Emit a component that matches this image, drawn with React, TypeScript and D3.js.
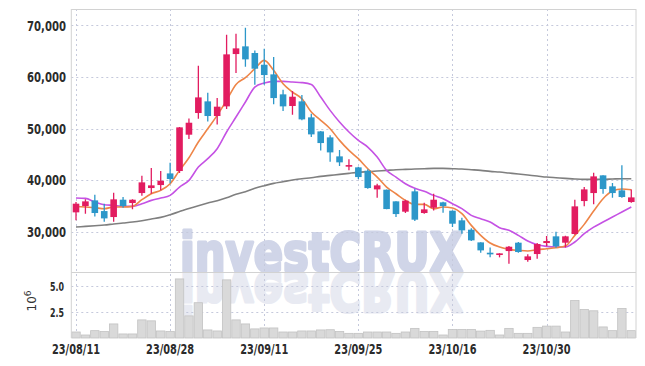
import React from 'react';
import * as d3 from 'd3';

const dates = [
  '23/08/11','23/08/14','23/08/16','23/08/17','23/08/18','23/08/21','23/08/22','23/08/23','23/08/24','23/08/25',
  '23/08/28','23/08/29','23/08/30','23/08/31','23/09/01','23/09/04','23/09/05','23/09/06','23/09/07','23/09/08',
  '23/09/11','23/09/12','23/09/13','23/09/14','23/09/15','23/09/18','23/09/19','23/09/20','23/09/21','23/09/22',
  '23/09/25','23/09/26','23/09/27','23/10/04','23/10/05','23/10/06','23/10/10','23/10/11','23/10/12','23/10/13',
  '23/10/16','23/10/17','23/10/18','23/10/19','23/10/20','23/10/23','23/10/24','23/10/25','23/10/26','23/10/27',
  '23/10/30','23/10/31','23/11/01','23/11/02','23/11/03','23/11/06','23/11/07','23/11/08','23/11/09','23/11/10',
];
const tickDates = ['23/08/11', '23/08/28', '23/09/11', '23/09/25', '23/10/16', '23/10/30'];
const priceTicks = [30000, 40000, 50000, 60000, 70000];
const volumeTicks = [2.5, 5.0];

const open = [
  33750, 34970, 36070, 34000, 32840, 36200, 35560, 37490, 38460, 39040,
  41300, 41760, 48800, 53000, 55260, 52420, 54290, 64430, 65920, 64630,
  62360, 60490, 56620, 54360, 55260, 52160, 49440, 48280, 44600, 42600,
  42470, 41820, 38200, 38140, 35880, 33880, 37820, 33620, 34650, 35690,
  34070, 32200, 30390, 27930, 25930, 25480, 26250, 27870, 24510, 25670,
  27800, 29100, 27870, 29550, 35940, 37490, 40920, 38790, 38010, 35750,
];
const high = [
  35750, 36270, 37170, 35430, 37560, 36720, 36270, 40850, 42340, 41760,
  43370, 50300, 51960, 62170, 56940, 55900, 68180, 68370, 69540, 65140,
  65460, 63850, 57520, 57260, 56490, 52870, 49500, 48670, 45830, 44020,
  42600, 42080, 39300, 38200, 35900, 36200, 38330, 35620, 37360, 35810,
  34100, 32710, 30650, 27950, 26960, 25800, 27220, 28000, 25610, 27800,
  29160, 30000, 29230, 36200, 38660, 41430, 40950, 39430, 42860, 38200,
];
const low = [
  32200, 33490, 32970, 31940, 31940, 34650, 34330, 36980, 37360, 38010,
  39370, 41370, 47960, 51900, 51380, 50800, 53770, 60750, 61980, 58490,
  58490, 54680, 53390, 52670, 51580, 48350, 45760, 43570, 42730, 41890,
  40210, 38330, 36590, 34330, 32840, 33620, 32070, 33490, 34130, 33680,
  30900, 29610, 28190, 25930, 25030, 25030, 23800, 25930, 24190, 24770,
  27160, 26900, 26960, 29420, 34910, 35300, 37360, 36590, 36590, 35620,
];
const close = [
  35430, 35880, 33620, 32580, 36270, 34970, 36200, 39560, 38980, 39880,
  40210, 50220, 51120, 56030, 52420, 54230, 64370, 65530, 63400, 61590,
  60360, 55900, 54290, 56160, 51770, 48860, 47180, 45370, 43440, 42920,
  40590, 38460, 38980, 34390, 33420, 36010, 32330, 34330, 36200, 34970,
  31550, 30260, 28320, 26380, 25610, 25800, 27090, 26060, 25220, 27610,
  28190, 27160, 29100, 34910, 38200, 40720, 38270, 37490, 36720, 36650,
];
const ma5 = [
  34910, 34780, 34650, 34460, 34780, 34780, 34910, 36200, 37360, 38010,
  39300, 41890, 44340, 47380, 49960, 52550, 55450, 58550, 59850, 61590,
  63200, 61270, 58690, 57070, 55770, 53190, 51580, 49960, 47700, 45760,
  44150, 42210, 40590, 38650, 37360, 36070, 35300, 35300, 34460, 34780,
  34590, 33490, 31230, 29290, 27800, 27030, 26580, 26380, 26250, 26510,
  26700, 26900, 27220, 29290, 31420, 34000, 36400, 37880, 38270, 38140,
];
const ma10 = [
  36520, 36450, 35750, 35230, 35100, 34910, 34910, 35430, 36070, 36520,
  37040, 38660, 39950, 42530, 44150, 46090, 49320, 52220, 55130, 58040,
  58810, 59130, 59130, 59000, 58900, 58550, 56100, 53510, 51250, 49320,
  47700, 46410, 44470, 41890, 40590, 39300, 38400, 37820, 37040, 36400,
  35430, 34460, 33170, 32520, 31870, 30780, 30260, 29290, 28190, 27480,
  27160, 27030, 27030, 28000, 29610, 30900, 31870, 32840, 33810, 34780,
];
const ma60 = [
  30900, 31030, 31160, 31290, 31490, 31680, 31870, 32130, 32450, 32780,
  33300, 33900, 34500, 35050, 35560, 36010, 36590, 37240, 37750, 38400,
  38910, 39370, 39690, 40010, 40270, 40460, 40720, 40920, 41110, 41310,
  41500, 41630, 41760, 41890, 42020, 42080, 42140, 42210, 42270, 42270,
  42210, 42140, 42020, 41890, 41690, 41560, 41370, 41180, 40980, 40790,
  40590, 40460, 40340, 40210, 40140, 40140, 40140, 40210, 40270, 40270,
];
const volume = [
  0.58, 0.29, 0.71, 0.62, 1.36, 0.39, 0.39, 1.75, 1.66, 0.68,
  0.62, 5.71, 2.14, 3.41, 0.78, 0.68, 5.62, 1.75, 1.36, 0.88,
  0.97, 0.97, 0.58, 0.58, 0.68, 0.68, 0.78, 0.80, 0.62, 0.45,
  0.45, 0.58, 0.58, 0.58, 0.45, 0.58, 0.93, 0.64, 0.64, 0.29,
  0.83, 0.83, 0.83, 0.67, 0.74, 0.29, 0.93, 0.45, 0.45, 1.03,
  1.15, 1.15, 0.58, 3.62, 2.76, 2.63, 1.07, 0.71, 2.86, 0.71,
];

const UP = '#e21c60';
const DOWN = '#2c97c9';
const GRID = '#c5c9dc';
const FRAME = '#d2d2d2';
const LABEL_FONT = "'DejaVu Sans Condensed', 'DejaVu Sans', sans-serif";
const MARK_FONT = "'DejaVu Sans', 'Liberation Sans', sans-serif";

export default function App() {
  const W = 645, H = 366;
  const left = 71.3, right = 636, top = 9, mainBottom = 272, volBottom = 338;

  const x = d3.scaleBand<string>().domain(dates).range([left, right]).padding(0);
  const bw = x.bandwidth();
  const cx = (d: string) => (x(d) as number) + bw / 2;
  const y = d3.scaleLinear().domain([22190, 73160]).range([mainBottom, top]);
  const yv = d3.scaleLinear().domain([0, 6.38]).range([volBottom, mainBottom]);

  const mkLine = (vals: number[]) =>
    d3.line<number>().x((_, i) => cx(dates[i])).y((v) => y(v)).curve(d3.curveMonotoneX)(vals) || '';

  const bodyW = bw * 0.7;

  const markProps = {
    x: 180,
    y: 271,
    fontFamily: MARK_FONT,
    fontWeight: 'bold' as const,
    fontSize: 54,
    textLength: 283,
    lengthAdjust: 'spacingAndGlyphs',
    strokeWidth: 3.2,
    strokeLinejoin: 'round' as const,
  };

  return (
    <svg width={W} height={H} style={{ position: 'absolute', left: 0, top: 0, background: '#fff' }}>
      <defs>
        <clipPath id="mainClip">
          <rect x={left} y={top} width={right - left} height={mainBottom - top} />
        </clipPath>
        <clipPath id="volClip">
          <rect x={left} y={mainBottom} width={right - left} height={volBottom - mainBottom} />
        </clipPath>
      </defs>

      {/* watermark */}
      <g clipPath="url(#mainClip)">
        <text {...markProps} fill="#d0d5e8" stroke="#d0d5e8">investCRUX</text>
      </g>
      <g clipPath="url(#volClip)">
        <g transform={`translate(0, ${2 * 272}) scale(1,-1)`}>
          <text {...markProps} fill="#e8eaf2" stroke="#e8eaf2">investCRUX</text>
        </g>
      </g>

      {/* grid */}
      <g stroke={GRID} strokeWidth={1} strokeDasharray="2,3" fill="none">
        {priceTicks.map((t) => (
          <line key={'h' + t} x1={left} x2={right} y1={Math.round(y(t)) + 0.5} y2={Math.round(y(t)) + 0.5} />
        ))}
        {volumeTicks.map((t) => (
          <line key={'v' + t} x1={left} x2={right} y1={Math.round(yv(t)) + 0.5} y2={Math.round(yv(t)) + 0.5} />
        ))}
        {tickDates.map((d) => (
          <line key={'d' + d} x1={Math.round(cx(d)) + 0.5} x2={Math.round(cx(d)) + 0.5} y1={top} y2={volBottom} />
        ))}
      </g>

      {/* volume bars */}
      <g>
        {dates.map((d, i) => (
          <rect key={'vb' + i} x={(x(d) as number) + 0.5} y={yv(volume[i])} width={bw - 1}
            height={volBottom - yv(volume[i])} fill="#d9d9d9" stroke="#c2c2c2" strokeWidth={0.8} />
        ))}
      </g>

      {/* moving averages */}
      <g clipPath="url(#mainClip)" fill="none" strokeWidth={1.6} strokeLinejoin="round">
        <path d={mkLine(ma60)} stroke="#7f7f7f" />
        <path d={mkLine(ma10)} stroke="#c552e4" />
        <path d={mkLine(ma5)} stroke="#ee8548" />
      </g>

      {/* candles */}
      <g clipPath="url(#mainClip)">
        {dates.map((d, i) => {
          const up = close[i] >= open[i];
          const col = up ? UP : DOWN;
          const yTop = y(Math.max(open[i], close[i]));
          const yBot = y(Math.min(open[i], close[i]));
          const c = cx(d);
          return (
            <g key={'c' + i}>
              <line x1={c} x2={c} y1={y(high[i])} y2={y(low[i])} stroke={col} strokeWidth={1.3} />
              <rect x={c - bodyW / 2} y={yTop} width={bodyW} height={Math.max(1.5, yBot - yTop)} fill={col} />
            </g>
          );
        })}
      </g>

      {/* frame */}
      <g stroke={FRAME} strokeWidth={1} fill="none">
        <line x1={left} x2={right} y1={top + 0.5} y2={top + 0.5} />
        <line x1={left} x2={right} y1={mainBottom + 0.5} y2={mainBottom + 0.5} />
        <line x1={left} x2={left} y1={top} y2={volBottom} />
        <line x1={right} x2={right} y1={top} y2={volBottom} />
      </g>

      {/* price axis labels */}
      <g fontFamily={LABEL_FONT} fontSize={14.5} fontWeight="bold" fill="#2b2b2b" textAnchor="end">
        {priceTicks.map((t) => (
          <text key={'pl' + t} x={66} y={y(t)} dy="0.36em" textLength={39} lengthAdjust="spacingAndGlyphs">
            {d3.format(',')(t)}
          </text>
        ))}
      </g>
      {/* volume axis labels */}
      <g fontFamily={LABEL_FONT} fontSize={13} fontWeight="bold" fill="#2b2b2b" textAnchor="end">
        {volumeTicks.map((t) => (
          <text key={'vl' + t} x={64} y={yv(t)} dy="0.36em" textLength={14} lengthAdjust="spacingAndGlyphs">
            {d3.format('.1f')(t)}
          </text>
        ))}
      </g>
      <text transform="translate(36, 301) rotate(-90)" textAnchor="middle" fontFamily="'DejaVu Sans', sans-serif"
        fontSize={12} fill="#333">
        10<tspan dy={-5} fontSize={9}>6</tspan>
      </text>
      {/* date labels */}
      <g fontFamily={LABEL_FONT} fontSize={14.5} fontWeight="bold" fill="#2b2b2b" textAnchor="middle">
        {tickDates.map((d) => (
          <text key={'dl' + d} x={cx(d)} y={354} textLength={48} lengthAdjust="spacingAndGlyphs">{d}</text>
        ))}
      </g>
    </svg>
  );
}
